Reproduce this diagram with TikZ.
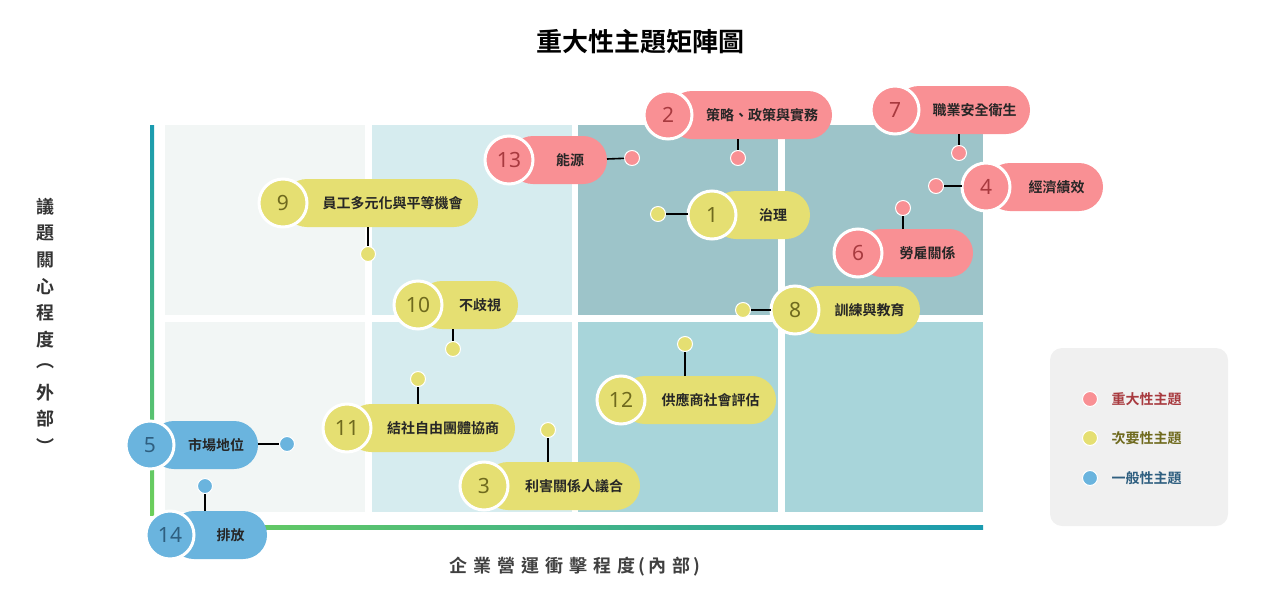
\documentclass[tikz,border=0pt]{standalone}
\usepackage{fontspec}
\setmainfont{Noto Sans}
\newfontfamily\cjk{Noto Sans CJK TC}[BoldFont={* Bold}]
\usetikzlibrary{calc}
\definecolor{redP}{HTML}{F99094}\definecolor{redN}{HTML}{A83A3F}
\definecolor{yelP}{HTML}{E5DF72}\definecolor{yelN}{HTML}{6F6A1E}
\definecolor{bluP}{HTML}{6AB4DE}\definecolor{bluN}{HTML}{2F5F80}
\definecolor{c1}{HTML}{F2F6F5}\definecolor{c2}{HTML}{D6ECEF}
\definecolor{c3}{HTML}{9DC4C9}\definecolor{c4}{HTML}{A8D5DA}
\definecolor{teal}{HTML}{1A9BB0}\definecolor{grn}{HTML}{6DCF5A}
\tikzset{
 dotn/.style={circle,minimum size=15pt,inner sep=0pt,draw=white,line width=1pt},
 conn/.style={line width=1.6pt,black},
 ptext/.style={font=\cjk\bfseries\fontsize{14}{16}\selectfont,text=black!85},
}
% #1 name, #2 cx, #3 cy, #4 xr, #5 num, #6 text, #7 pill col, #8 num col
\newcommand\mypill[8]{%
 \fill[#7,rounded corners=24pt] (#2,#3-24) rectangle (#4,#3+24);
 \node[circle,minimum size=48pt,inner sep=0pt,fill=#7,draw=white,line width=3pt,
   font=\fontsize{21}{24}\selectfont,text=#8] (#1c) at (#2,#3) {#5};
 \node[ptext,anchor=center] (#1t) at ({(#2+24+#4)/2},#3) {#6};
}
\begin{document}
\begin{tikzpicture}[x=1pt,y=-1pt]
\useasboundingbox (0,0) rectangle (1280,600);
% grid
\fill[c1] (165,125) rectangle (365,315);\fill[c1] (165,322) rectangle (365,512);
\fill[c2] (372,125) rectangle (572,315);\fill[c2] (372,322) rectangle (572,512);
\fill[c3] (578,125) rectangle (778,315);\fill[c4] (578,322) rectangle (778,512);
\fill[c3] (785,125) rectangle (983,315);\fill[c4] (785,322) rectangle (983,512);
% axes
\shade[top color=teal,bottom color=grn] (150,125) rectangle (154,515);
\shade[left color=grn,right color=teal] (152,525) rectangle (983,529);
% title
\node[font=\cjk\bfseries\fontsize{26}{30}\selectfont] (title) at (640,42) {重大性主題矩陣圖};
% y label
\foreach \ch [count=\i from 0] in {議,題,關,心,程,度,︵,外,部,︶}
 \node[font=\cjk\bfseries\fontsize{18}{20}\selectfont,text=black!80] (yl\i) at (45,{207+\i*26.5}) {\ch};
\node[font=\cjk\bfseries\fontsize{18}{20}\selectfont,text=black!75] (xl) at (575,567) {企\,\,業\,\,營\,\,運\,\,衝\,\,擊\,\,程\,\,度\,(\,內\,\,部\,)};
% pills
\mypill{p2}{668}{115}{832}{2}{策略、政策與實務}{redP}{redN}
\mypill{p7}{895}{110}{1030}{7}{職業安全衛生}{redP}{redN}
\mypill{p13}{509}{160}{607}{13}{能源}{redP}{redN}
\mypill{p4}{986}{187}{1103}{4}{經濟績效}{redP}{redN}
\mypill{p9}{283}{203}{478}{9}{員工多元化與平等機會}{yelP}{yelN}
\mypill{p1}{712}{215}{810}{1}{治理}{yelP}{yelN}
\mypill{p6}{858}{253}{973}{6}{勞雇關係}{redP}{redN}
\mypill{p10}{418}{305}{518}{10}{不歧視}{yelP}{yelN}
\mypill{p8}{795}{310}{920}{8}{訓練與教育}{yelP}{yelN}
\mypill{p12}{621}{400}{776}{12}{供應商社會評估}{yelP}{yelN}
\mypill{p11}{347}{428}{515}{11}{結社自由團體協商}{yelP}{yelN}
\mypill{p5}{150}{445}{258}{5}{市場地位}{bluP}{bluN}
\mypill{p3}{484}{486}{640}{3}{利害關係人議合}{yelP}{yelN}
\mypill{p14}{170}{535}{267}{14}{排放}{bluP}{bluN}
% attach coordinates
\coordinate (a2) at (738,139);\coordinate (a13) at (607,159);
\coordinate (a1) at (688,214);\coordinate (a7) at (959,134);
\coordinate (a4) at (962,186);\coordinate (a6) at (903,229);
\coordinate (a9) at (368,227);\coordinate (a10) at (453,329);
\coordinate (a8) at (771,310);\coordinate (a12) at (685,376);
\coordinate (a11) at (418,404);\coordinate (a5) at (258,444);
\coordinate (a3) at (548,462);\coordinate (a14) at (205,511);
% dots
\node[dotn,fill=redP] (d2) at (738,158) {};\node[dotn,fill=redP] (d13) at (632,158) {};
\node[dotn,fill=yelP] (d1) at (658,214) {};\node[dotn,fill=redP] (d7) at (959,153) {};
\node[dotn,fill=redP] (d4) at (936,186) {};\node[dotn,fill=redP] (d6) at (903,208) {};
\node[dotn,fill=yelP] (d9) at (368,254) {};\node[dotn,fill=yelP] (d10) at (453,349) {};
\node[dotn,fill=yelP] (d8) at (743,310) {};\node[dotn,fill=yelP] (d12) at (685,344) {};
\node[dotn,fill=yelP] (d11) at (418,379) {};\node[dotn,fill=bluP] (d5) at (287,444) {};
\node[dotn,fill=yelP] (d3) at (548,430) {};\node[dotn,fill=bluP] (d14) at (205,486) {};
\foreach \k in {2,13,1,7,4,6,9,10,8,12,11,5,3,14}
 \draw[conn] (a\k) -- (d\k);
% legend
\fill[black!6,rounded corners=12pt] (1050,348) rectangle (1228,526);
\node[dotn,fill=redP] (l1) at (1090,399) {};
\node[dotn,fill=yelP] (l2) at (1090,438) {};
\node[dotn,fill=bluP] (l3) at (1090,478) {};
\node[font=\cjk\bfseries\fontsize{14}{16}\selectfont,text=redN,anchor=west] (lt1) at (1108,399) {重大性主題};
\node[font=\cjk\bfseries\fontsize{14}{16}\selectfont,text=yelN,anchor=west] (lt2) at (1108,438) {次要性主題};
\node[font=\cjk\bfseries\fontsize{14}{16}\selectfont,text=bluN,anchor=west] (lt3) at (1108,478) {一般性主題};
\end{tikzpicture}
\end{document}
